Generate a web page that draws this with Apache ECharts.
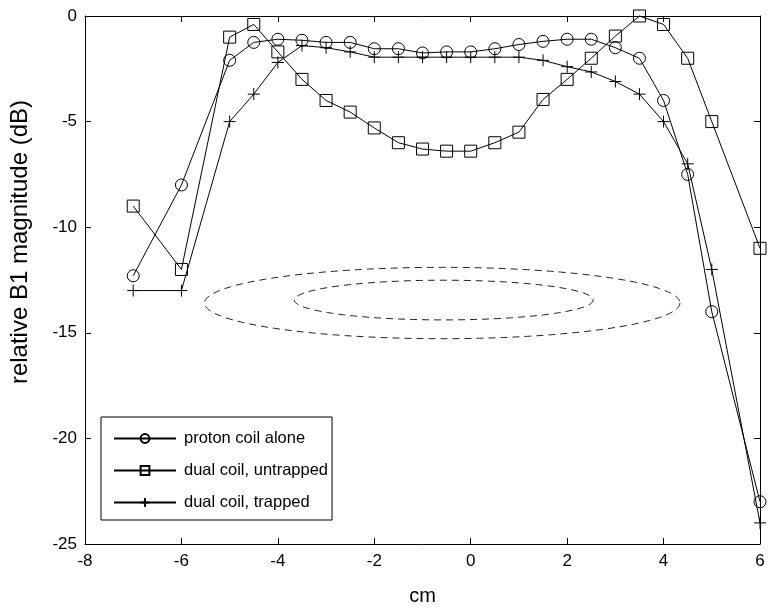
<!DOCTYPE html>
<html>
<head>
<meta charset="utf-8">
<script src="https://cdn.jsdelivr.net/npm/echarts@6/dist/echarts.min.js"></script>
<style>
  html, body { margin: 0; padding: 0; background: #fff; }
  #chart { width: 768px; height: 611px; }
</style>
</head>
<body>
<div id="chart"></div>
<script>
// Position across the coil (cm)
const positionCm = [-7, -6, -5, -4.5, -4, -3.5, -3, -2.5, -2, -1.5, -1, -0.5, 0, 0.5, 1, 1.5, 2, 2.5, 3, 3.5, 4, 4.5, 5, 6];

// Relative B1 magnitude (dB) for each configuration
const protonAlone = [-12.3, -8.0, -2.1, -1.25, -1.1, -1.15, -1.25, -1.25, -1.55, -1.55, -1.75, -1.7, -1.7, -1.55, -1.35, -1.2, -1.1, -1.1, -1.5, -2.0, -4.0, -7.5, -14.0, -23.0];
const dualUntrapped = [-9.0, -12.0, -1.0, -0.4, -1.7, -3.0, -4.0, -4.55, -5.3, -6.0, -6.3, -6.4, -6.4, -6.0, -5.5, -3.95, -3.0, -2.0, -0.95, 0.0, -0.4, -2.0, -5.0, -11.0];
const dualTrapped = [-13.0, -13.0, -5.0, -3.7, -2.2, -1.4, -1.5, -1.7, -1.95, -1.95, -1.95, -1.95, -1.95, -1.95, -1.95, -2.1, -2.4, -2.65, -3.1, -3.7, -5.0, -7.0, -12.0, -24.0];

const seriesNames = ['proton coil alone', 'dual coil, untrapped', 'dual coil, trapped'];

// Axis ticks
const xTicks = { min: -8, max: 6, step: 2 };
const yTicks = { min: -25, max: 0, step: 5 };

// Coil outline sketch: [centre x (cm), centre y (dB), half-width (cm), half-height (dB)]
const coilOutlines = [
  [-0.59, -13.59, 4.93, 1.69],
  [-0.56, -13.45, 3.10, 0.94]
];

const FONT = '"Liberation Sans", Arial, Helvetica, sans-serif';
const plusPath = 'path://M5,0L5,10M0,5L10,5';

function pairs(ys) {
  return positionCm.map((x, i) => [x, ys[i]]);
}

function lineSeries(name, ys, symbol) {
  return {
    name: name,
    type: 'line',
    data: pairs(ys),
    symbol: symbol,
    symbolSize: 12,
    showAllSymbol: true,
    clip: false,
    lineStyle: { color: '#000', width: 1 },
    itemStyle: { color: 'rgba(0,0,0,0)', borderColor: '#000', borderWidth: 1 },
    emphasis: { disabled: true },
    animation: false,
    z: 3
  };
}

const chart = echarts.init(document.getElementById('chart'), null, { renderer: 'canvas' });

const axisCommon = {
  axisLine: { show: true, onZero: false, lineStyle: { color: '#000', width: 1 } },
  axisTick: { show: true, inside: true, length: 6, lineStyle: { color: '#000', width: 1 } },
  splitLine: { show: false }
};

chart.setOption({
  backgroundColor: '#fff',
  animation: false,
  grid: { left: 83, right: 8, top: 16, bottom: 62, containLabel: false },
  xAxis: [
    Object.assign({
      type: 'value', position: 'bottom',
      min: xTicks.min, max: xTicks.max, interval: xTicks.step,
      name: 'cm', nameLocation: 'middle', nameGap: 42,
      nameTextStyle: { color: '#000', fontSize: 20, fontFamily: FONT },
      axisLabel: { color: '#000', fontSize: 17, fontFamily: FONT, margin: 9 }
    }, axisCommon),
    Object.assign({
      type: 'value', position: 'top',
      min: xTicks.min, max: xTicks.max, interval: xTicks.step,
      axisLabel: { show: false }
    }, axisCommon)
  ],
  yAxis: [
    Object.assign({
      type: 'value', position: 'left',
      min: yTicks.min, max: yTicks.max, interval: yTicks.step,
      name: 'relative B1 magnitude (dB)', nameLocation: 'middle', nameGap: 53, nameRotate: 90,
      nameTextStyle: { color: '#000', fontSize: 24, fontFamily: FONT, padding: [0, 0, 0, 76] },
      axisLabel: { color: '#000', fontSize: 17, fontFamily: FONT, margin: 8 }
    }, axisCommon),
    Object.assign({
      type: 'value', position: 'right',
      min: yTicks.min, max: yTicks.max, interval: yTicks.step,
      axisLabel: { show: false }
    }, axisCommon)
  ],
  legend: {
    show: true,
    data: seriesNames,
    orient: 'vertical',
    left: 101, top: 417,
    itemWidth: 62, itemHeight: 11, itemGap: 15,
    padding: [13, 4, 9, 12],
    backgroundColor: '#fff',
    borderColor: '#000', borderWidth: 1,
    textStyle: { color: '#000', fontSize: 16.5, fontFamily: FONT, padding: [0, 0, 0, 3] },
    selectedMode: false
  },
  series: [
    lineSeries(seriesNames[0], protonAlone, 'circle'),
    lineSeries(seriesNames[1], dualUntrapped, 'rect'),
    lineSeries(seriesNames[2], dualTrapped, plusPath),
    {
      type: 'custom',
      name: 'coil outline',
      data: coilOutlines,
      silent: true,
      animation: false,
      z: 1,
      renderItem: function (params, api) {
        const c = api.coord([api.value(0), api.value(1)]);
        const s = api.size([api.value(2), api.value(3)]);
        const pts = [];
        const n = 120;
        for (let k = 0; k < n; k++) {
          const t = (k / n) * Math.PI * 2;
          pts.push([c[0] + s[0] * Math.cos(t), c[1] + s[1] * Math.sin(t)]);
        }
        return {
          type: 'polygon',
          shape: { points: pts },
          style: { fill: null, stroke: '#222', lineWidth: 1, lineDash: [7, 5] }
        };
      }
    }
  ]
});
</script>
</body>
</html>
